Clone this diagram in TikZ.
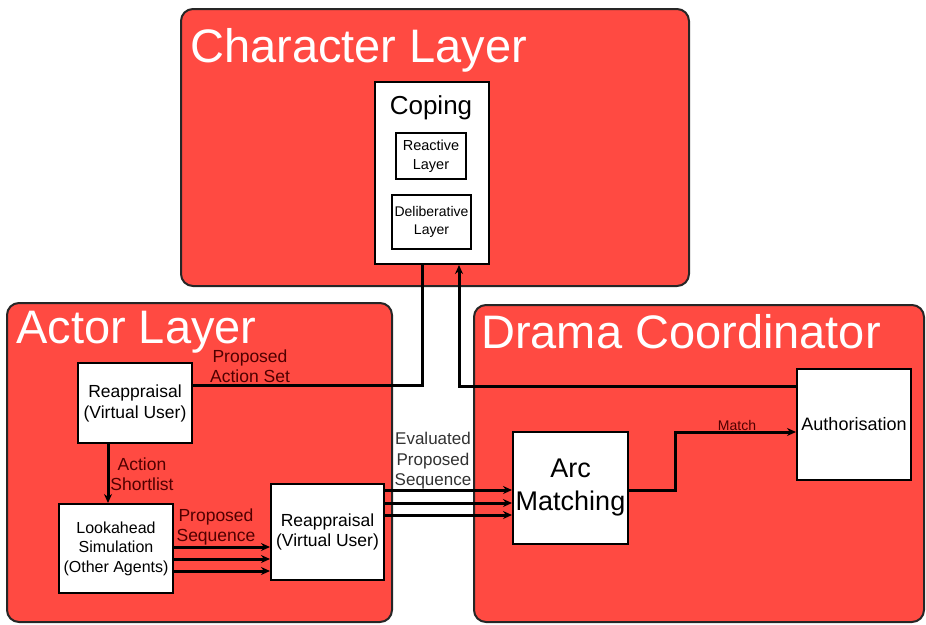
\documentclass[tikz,border=0pt]{standalone}
\usepackage{fontspec}
\setmainfont{Liberation Sans}
\usetikzlibrary{arrows.meta}
\definecolor{panelred}{RGB}{255,74,66}
\definecolor{lblred}{RGB}{80,0,0}
\definecolor{lblgray}{RGB}{50,50,50}
\begin{document}
\begin{tikzpicture}[x=1pt,y=-1pt,
  panel/.style={draw=black!85, line width=2pt, fill=panelred, rounded corners=12pt},
  ptitle/.style={text=white, font=\fontsize{47}{50}\selectfont, anchor=west, inner sep=0pt},
  box/.style={draw=black, line width=2pt, fill=white, anchor=north west, inner sep=0pt, align=center},
  conn/.style={line width=3pt, draw=black},
  arr/.style={conn, -{Stealth[length=9pt,width=8pt]}},
  lbl/.style={text=lblred, font=\fontsize{17.5}{20}\selectfont, align=center, inner sep=0pt},
]
\useasboundingbox (0,0) rectangle (926,624);
% panels
\draw[panel] (181,9) rectangle (689,286);
\draw[panel] (7,303) rectangle (392,622);
\draw[panel] (474,305) rectangle (924,622);
\node[ptitle] (tchar) at (190,50) {Character Layer};
\node[ptitle] (tactor) at (16,332) {Actor Layer};
\node[ptitle] (tdrama) at (481,332) {Drama Coordinator};
% coping
\node[box, minimum width=114pt, minimum height=182pt] (coping) at (374,81) {};
\node[font=\fontsize{26}{28}\selectfont, inner sep=0pt] (copingt) at (431,108) {Coping};
\node[box, minimum width=70pt, minimum height=46pt, font=\fontsize{14.5}{19}\selectfont] (react) at (395,132) {Reactive\\Layer};
\node[box, minimum width=79pt, minimum height=54pt, font=\fontsize{14}{18}\selectfont] (delib) at (391,194) {Deliberative\\Layer};
% actor layer boxes
\node[box, minimum width=114pt, minimum height=80pt, font=\fontsize{17.5}{21}\selectfont] (rt) at (77,362) {Reappraisal\\(Virtual User)};
\node[box, minimum width=114pt, minimum height=89pt, font=\fontsize{16}{19.5}\selectfont] (la) at (58,503) {Lookahead\\Simulation\\(Other Agents)};
\node[box, minimum width=113pt, minimum height=96pt, font=\fontsize{17.5}{20.5}\selectfont] (rb) at (270,483) {Reappraisal\\(Virtual User)};
% drama boxes
\node[box, minimum width=115pt, minimum height=112pt, font=\fontsize{27}{33}\selectfont] (arc) at (512,431) {Arc\\Matching};
\node[box, minimum width=114pt, minimum height=111pt, font=\fontsize{18}{21}\selectfont] (auth) at (796,368) {Authorisation};
% coordinates
\coordinate (c1) at (422,385);
\coordinate (c2) at (459,386);
\coordinate (c3) at (108,0);
\coordinate (c4) at (675,432);
% connectors
\draw[conn] (rt.east |- c1) -| (coping.south -| c1);
\draw[arr] (auth.west |- c2) -| (coping.south -| c2);
\draw[arr] (rt.south -| c3) -- (la.north -| c3);
\foreach \yy in {547,559,571}{
  \draw[arr] (la.east |- 0,\yy) -- (rb.west |- 0,\yy);
}
\foreach \yy in {490,503,515}{
  \draw[arr] (rb.east |- 0,\yy) -- (arc.west |- 0,\yy);
}
\draw[arr] (arc.east |- 0,490) -| (c4) -- (auth.west |- c4);
% labels
\node[lbl] (lpas) at (250,366) {Proposed\\Action Set};
\node[lbl] (las) at (142,474) {Action\\Shortlist};
\node[lbl] (lps) at (216,527) {Proposed\\Sequence};
\node[lbl, text=lblgray, font=\fontsize{17}{20.5}\selectfont] (leps) at (433,461) {Evaluated\\Proposed\\Sequence};
\node[lbl, font=\fontsize{14}{16}\selectfont] (lmatch) at (737,425) {Match};
\end{tikzpicture}
\end{document}
